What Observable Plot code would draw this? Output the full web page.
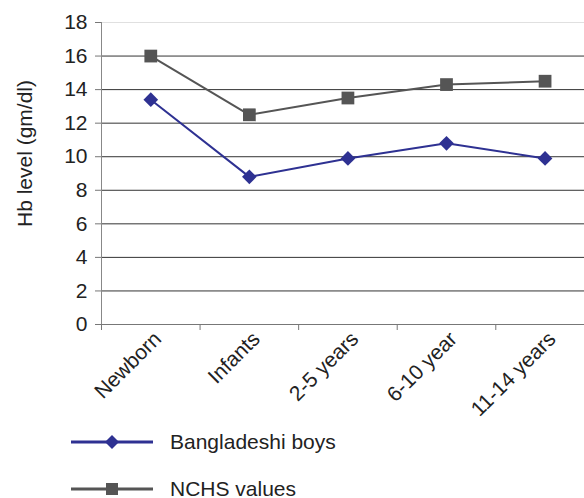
<!DOCTYPE html>
<html>
<head>
<meta charset="utf-8">
<script src="https://cdn.jsdelivr.net/npm/d3@7"></script>
<script src="https://cdn.jsdelivr.net/npm/@observablehq/plot@0.6"></script>
<style>
  body { margin: 0; background: #fff; font-family: "Liberation Sans", Arial, sans-serif; }
  #wrap { width: 584px; height: 498px; position: relative; overflow: hidden; }
  .legend { margin-top: -2px; }
  .row { display: flex; align-items: center; height: 47px; }
  .row svg { margin-left: 70px; }
  .row span { margin-left: 16px; font-size: 21px; color: #222; }
</style>
</head>
<body>
<div id="wrap"></div>
<script>
const categories = ["Newborn", "Infants", "2-5 years", "6-10 year", "11-14 years"];
const boysValues = [13.4, 8.8, 9.9, 10.8, 9.9];
const nchsValues = [16, 12.5, 13.5, 14.3, 14.5];
const yTicks = [0, 2, 4, 6, 8, 10, 12, 14, 16, 18];
const seriesNames = ["Bangladeshi boys", "NCHS values"];
const seriesColors = ["#2e3192", "#555555"];

const boys = categories.map((c, i) => ({i, c, v: boysValues[i]}));
const nchs = categories.map((c, i) => ({i, c, v: nchsValues[i]}));
const idx = categories.map((c, i) => i);
const bounds = categories.map((c, i) => i - 0.5).concat([categories.length - 0.5]);

const chart = Plot.plot({
  width: 584,
  height: 420,
  marginLeft: 101,
  marginRight: 0,
  marginTop: 22,
  marginBottom: 96,
  style: {fontFamily: "'Liberation Sans', Arial, sans-serif", fontSize: "21px", color: "#222", background: "transparent", overflow: "visible"},
  x: {domain: [-0.5, 4.4], axis: null},
  y: {domain: [0, 18], axis: null},
  marks: [
    Plot.ruleY(yTicks.filter(t => t > 0 && t < 18), {stroke: "#333", strokeWidth: 1}),
    Plot.ruleY([18], {stroke: "#e0e0e0", strokeWidth: 1}),
    Plot.ruleY([0], {stroke: "#777", strokeWidth: 1}),
    Plot.ruleX([-0.5], {stroke: "#888", strokeWidth: 1}),
    Plot.axisY({ticks: yTicks, tickSize: 6, tickPadding: 8, stroke: "#777", fill: "#222", fontSize: 21, label: null, tickFormat: d => String(d)}),
    Plot.axisX({ticks: bounds, tickSize: 6, stroke: "#777", tickFormat: () => "", label: null}),
    Plot.axisX({ticks: idx, tickSize: 0, tickRotate: -45, tickPadding: 11, dx: 7, fill: "#222", fontSize: 21, tickFormat: i => categories[i], label: null}),
    Plot.line(nchs, {x: "i", y: "v", stroke: seriesColors[1], strokeWidth: 2}),
    Plot.dot(nchs, {x: "i", y: "v", symbol: "square", r: 7.2, fill: seriesColors[1], stroke: "none"}),
    Plot.line(boys, {x: "i", y: "v", stroke: seriesColors[0], strokeWidth: 2}),
    Plot.dot(boys, {x: "i", y: "v", symbol: "diamond2", r: 6.6, fill: seriesColors[0], stroke: "none"}),
    Plot.text(["Hb level (gm/dl)"], {frameAnchor: "left", textAnchor: "middle", rotate: -90, dx: -76, dy: -20, fontSize: 21, fill: "#222"})
  ]
});

const wrap = document.getElementById("wrap");
wrap.appendChild(chart);

const legend = document.createElement("div");
legend.className = "legend";
const symbols = [
  '<path d="M42,3 L49,10 L42,17 L35,10 Z" fill="' + seriesColors[0] + '"/>',
  '<rect x="36" y="4" width="12" height="12" fill="' + seriesColors[1] + '"/>'
];
seriesNames.forEach((name, k) => {
  const row = document.createElement("div");
  row.className = "row";
  row.innerHTML = '<svg width="84" height="20"><line x1="1" x2="83" y1="10" y2="10" stroke="' + seriesColors[k] + '" stroke-width="3"/>' + symbols[k] + '</svg><span>' + name + '</span>';
  legend.appendChild(row);
});
wrap.appendChild(legend);
</script>
</body>
</html>
